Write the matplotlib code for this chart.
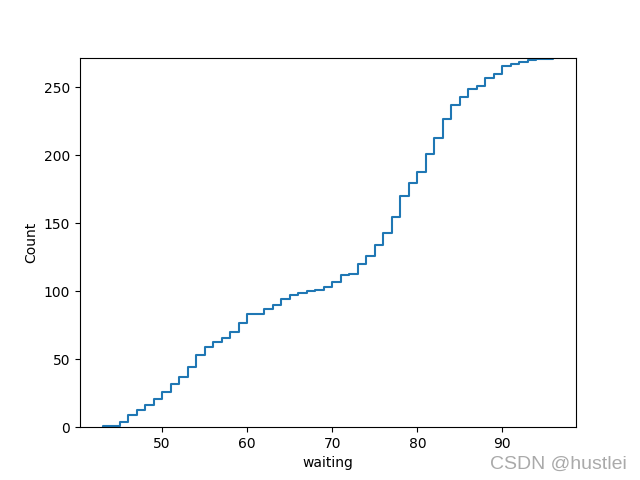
import matplotlib
matplotlib.use("Agg")
import matplotlib.pyplot as plt
import numpy as np
import seaborn as sns

# ── Data: Old Faithful waiting times (value -> number of eruptions) ──────────
waiting_values = [
    43, 45, 46, 47, 48, 49, 50, 51, 52, 53, 54, 55, 56, 57, 58, 59, 60,
    62, 63, 64, 65, 66, 67, 68, 69, 70, 71, 72, 73, 74, 75, 76, 77, 78,
    79, 80, 81, 82, 83, 84, 85, 86, 87, 88, 89, 90, 91, 92, 93, 94, 96,
]
waiting_counts = [
    1, 3, 5, 4, 3, 5, 5, 6, 5, 7, 9, 6, 4, 3, 4, 7, 6,
    4, 3, 4, 3, 2, 1, 1, 2, 4, 5, 1, 7, 6, 8, 9, 12, 15,
    10, 8, 13, 12, 14, 10, 6, 6, 2, 6, 3, 6, 1, 2, 1, 1, 1,
]

waiting = np.repeat(waiting_values, waiting_counts)

fig, ax = plt.subplots(figsize=(6.4, 4.8), dpi=100)
sns.ecdfplot(x=waiting, stat="count", ax=ax)
ax.set_xlabel("waiting")

# watermark
fig.text(0.98, 0.015, "CSDN @hustlei", ha="right", va="bottom",
         fontsize=14, color="#aaaaaa", family="Liberation Sans")

fig.savefig("out.png", dpi=100)
